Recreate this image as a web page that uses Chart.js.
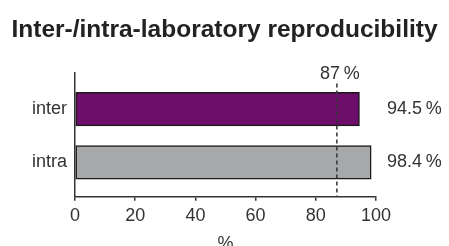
<!DOCTYPE html>
<html>
<head>
<meta charset="utf-8">
<script src="https://cdn.jsdelivr.net/npm/chart.js@4.4.1/dist/chart.umd.min.js"></script>
<style>
  html, body { margin: 0; padding: 0; background: #ffffff; overflow: hidden; }
  #wrap { width: 449px; height: 246px; position: relative; }
</style>
</head>
<body>
<div id="wrap"><canvas id="c" width="449" height="246"></canvas></div>
<script>
// ---- data ----
const chartTitle = "Inter-/intra-laboratory reproducibility";
const categories = ["inter", "intra"];
const values = [94.5, 98.4];
const barColors = ["#6c0e6a", "#a7a8aa"];
const thresholdValue = 87;
const xTicks = [0, 20, 40, 60, 80, 100];
const xAxisTitle = "%";

const FONT = "Arial, Helvetica, sans-serif";
const TEXT = "#333333";

const pct = v => v + "\u2009%";

const labelPlugin = {
  id: "valueLabels",
  afterDatasetsDraw(chart) {
    const ctx = chart.ctx;
    const xs = chart.scales.x;
    const area = chart.chartArea;
    ctx.save();
    const tx = xs.getPixelForValue(thresholdValue);
    ctx.strokeStyle = "#333333";
    ctx.lineWidth = 1.5;
    ctx.setLineDash([4, 3]);
    ctx.beginPath();
    ctx.moveTo(tx, area.top + 11);
    ctx.lineTo(tx, area.bottom);
    ctx.stroke();
    ctx.setLineDash([]);
    ctx.fillStyle = TEXT;
    ctx.font = "18px " + FONT;
    ctx.textAlign = "center";
    ctx.textBaseline = "middle";
    ctx.fillText(pct(thresholdValue), tx + 3, area.top + 2);
    const meta = chart.getDatasetMeta(0);
    ctx.textAlign = "left";
    meta.data.forEach((el, i) => {
      ctx.fillText(pct(values[i]), xs.right + 11, el.y);
    });
    ctx.restore();
  }
};

new Chart(document.getElementById("c"), {
  type: "bar",
  data: {
    datasets: [{
      data: values.map((v, i) => ({ x: v, y: i })),
      backgroundColor: barColors,
      borderColor: "#1a1a1a",
      borderWidth: 1.5,
      borderSkipped: false,
      barThickness: 33.5
    }]
  },
  plugins: [labelPlugin],
  options: {
    indexAxis: "y",
    responsive: false,
    animation: false,
    devicePixelRatio: 1,
    layout: { padding: 0 },
    plugins: {
      legend: { display: false },
      tooltip: { enabled: false },
      title: {
        display: true,
        text: chartTitle,
        color: "#222222",
        font: { family: FONT, size: 24.5, weight: "bold" },
        padding: { top: 16, bottom: 27 }
      }
    },
    scales: {
      x: {
        type: "linear",
        min: 0,
        max: 100,
        afterBuildTicks: s => { s.ticks = xTicks.map(v => ({ value: v })); },
        ticks: { color: TEXT, font: { family: FONT, size: 18 }, padding: 4, autoSkip: false },
        grid: { display: true, drawOnChartArea: false, drawTicks: true, tickLength: 4, color: "#333333", lineWidth: 1.5 },
        border: { display: true, color: "#333333", width: 1.5 },
        title: {
          display: true,
          text: xAxisTitle,
          color: TEXT,
          font: { family: FONT, size: 18 },
          padding: { top: 3, bottom: -9 }
        }
      },
      y: {
        type: "linear",
        reverse: true,
        offset: false,
        min: -0.69,
        max: 1.645,
        afterBuildTicks: s => { s.ticks = categories.map((c, i) => ({ value: i })); },
        afterFit: s => { s.width = 75; },
        ticks: {
          color: TEXT,
          font: { family: FONT, size: 18 },
          padding: 8,
          autoSkip: false,
          callback: v => categories[v]
        },
        grid: { display: false, drawTicks: false },
        border: { display: true, color: "#333333", width: 1.5 }
      },
      yRight: {
        type: "linear",
        position: "right",
        display: true,
        afterFit: s => { s.width = 73; },
        ticks: { display: false },
        grid: { display: false, drawTicks: false },
        border: { display: false }
      }
    }
  }
});
</script>
</body>
</html>
